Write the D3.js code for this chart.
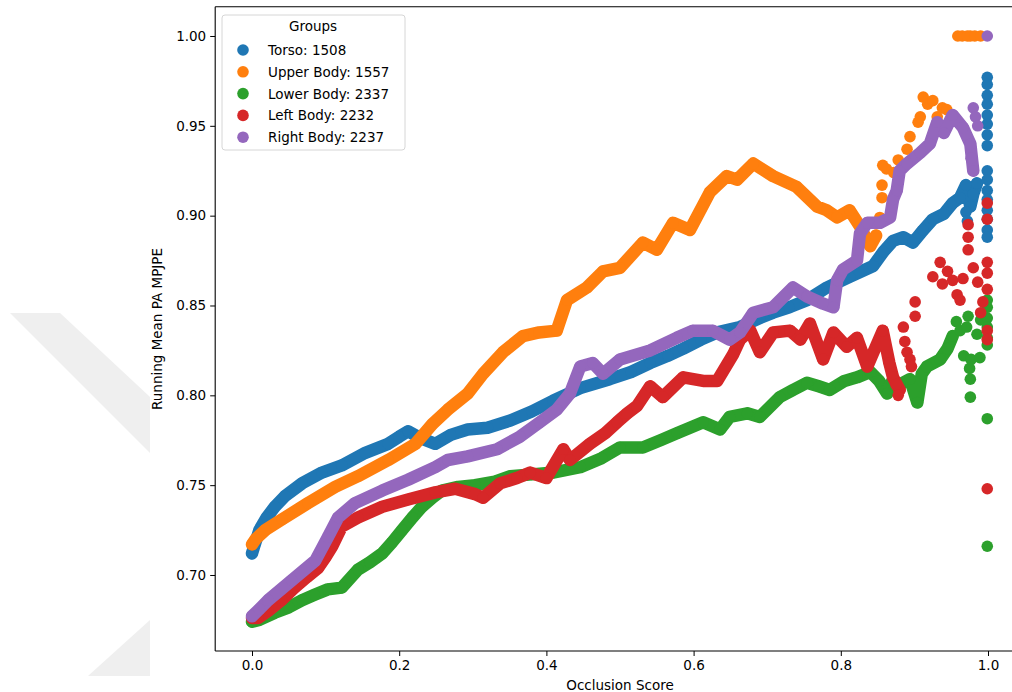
<!DOCTYPE html>
<html>
<head>
<meta charset="utf-8">
<script src="https://cdn.jsdelivr.net/npm/d3@7"></script>
<style>
  body { margin: 0; background: #fff; }
  #chart { width: 1012px; height: 692px; }
  text { font-family: "DejaVu Sans", sans-serif; fill: #000; }
</style>
</head>
<body>
<div id="chart"></div>
<script>
// running mean values (x = occlusion score, y = PA MPJPE)
var groupNames = ["Torso: 1508", "Upper Body: 1557", "Lower Body: 2337", "Left Body: 2232", "Right Body: 2237"]
var groupColors = ["#1f77b4", "#ff7f0e", "#2ca02c", "#d62728", "#9467bd"]

var torsoX = [0.000,0.003,0.010,0.020,0.031,0.045,0.068,0.095,0.122,0.154,0.185,0.200,0.212,0.230,0.249,0.270,0.293,0.320,0.351,0.380,0.409,0.446,0.486,0.515,0.541,0.565,0.586,0.610,0.632,0.663,0.690,0.708,0.730,0.754,0.781,0.812,0.844,0.858,0.871,0.885,0.898,0.912,0.925,0.940,0.952,0.962,0.970,0.976,0.980,0.985]
var torsoY = [0.712,0.716,0.725,0.732,0.738,0.744,0.751,0.757,0.761,0.768,0.773,0.777,0.780,0.776,0.773,0.778,0.781,0.782,0.786,0.791,0.797,0.804,0.809,0.813,0.818,0.822,0.826,0.831,0.835,0.838,0.843,0.846,0.849,0.853,0.860,0.866,0.872,0.880,0.886,0.888,0.885,0.892,0.898,0.901,0.907,0.910,0.917,0.905,0.912,0.918]
var torsoTailX = [0.970,0.972,0.999,0.999,0.999,0.999,0.999,0.999,0.999,0.999,0.999,0.999,0.999,0.999,0.999,0.999,0.999,0.999]
var torsoTailY = [0.902,0.897,0.977,0.973,0.967,0.962,0.956,0.951,0.945,0.939,0.925,0.920,0.914,0.909,0.903,0.898,0.892,0.888]

var upperX = [0.000,0.005,0.018,0.041,0.076,0.113,0.144,0.185,0.222,0.245,0.266,0.293,0.314,0.341,0.368,0.390,0.414,0.428,0.455,0.477,0.500,0.531,0.550,0.572,0.595,0.622,0.645,0.659,0.681,0.708,0.740,0.768,0.781,0.795,0.812,0.826,0.840,0.848]
var upperY = [0.717,0.720,0.725,0.731,0.740,0.749,0.755,0.764,0.773,0.784,0.792,0.801,0.812,0.824,0.833,0.835,0.836,0.853,0.860,0.869,0.871,0.885,0.881,0.896,0.892,0.913,0.922,0.920,0.929,0.922,0.916,0.905,0.903,0.899,0.903,0.894,0.883,0.889]
var upperTailX = [0.853,0.856,0.856,0.857,0.862,0.872,0.878,0.890,0.894,0.905,0.908,0.912,0.918,0.925,0.931,0.938,0.944,0.950,0.959,0.965,0.972,0.976,0.982,0.990]
var upperTailY = [0.899,0.910,0.917,0.928,0.926,0.924,0.931,0.937,0.944,0.952,0.955,0.966,0.962,0.964,0.955,0.960,0.959,0.953,1.000,1.000,1.000,1.000,1.000,1.000]

var lowerX = [0.000,0.010,0.031,0.050,0.068,0.085,0.103,0.122,0.144,0.160,0.177,0.190,0.204,0.218,0.231,0.245,0.258,0.280,0.303,0.330,0.351,0.380,0.409,0.446,0.475,0.500,0.531,0.555,0.578,0.613,0.636,0.649,0.673,0.690,0.717,0.735,0.754,0.770,0.785,0.805,0.822,0.840,0.852,0.863,0.870,0.880,0.894,0.904,0.910,0.917,0.935,0.945,0.952]
var lowerY = [0.674,0.675,0.679,0.682,0.686,0.689,0.692,0.693,0.703,0.707,0.712,0.718,0.725,0.732,0.738,0.743,0.747,0.749,0.750,0.752,0.755,0.756,0.757,0.760,0.765,0.771,0.771,0.775,0.779,0.785,0.781,0.788,0.790,0.788,0.799,0.803,0.807,0.805,0.803,0.808,0.810,0.813,0.808,0.801,0.808,0.806,0.809,0.796,0.812,0.816,0.820,0.826,0.833]
var lowerTailX = [0.957,0.962,0.967,0.971,0.973,0.975,0.976,0.976,0.977,0.985,0.989,0.990,0.999,0.999,0.999,0.999,0.999,0.999,0.999,0.999]
var lowerTailY = [0.841,0.836,0.822,0.838,0.844,0.815,0.809,0.799,0.820,0.834,0.821,0.842,0.853,0.849,0.843,0.838,0.832,0.828,0.787,0.716]

var leftX = [0.000,0.008,0.022,0.040,0.058,0.075,0.090,0.100,0.109,0.122,0.144,0.177,0.212,0.249,0.276,0.303,0.314,0.337,0.360,0.378,0.400,0.423,0.432,0.459,0.480,0.496,0.510,0.523,0.541,0.558,0.586,0.613,0.632,0.654,0.663,0.677,0.690,0.708,0.731,0.745,0.758,0.776,0.790,0.808,0.822,0.836,0.857,0.866,0.871,0.880]
var leftY = [0.676,0.676,0.680,0.686,0.693,0.699,0.704,0.710,0.716,0.727,0.732,0.738,0.742,0.746,0.748,0.745,0.743,0.751,0.754,0.757,0.754,0.770,0.764,0.773,0.779,0.785,0.790,0.794,0.805,0.799,0.810,0.808,0.808,0.823,0.831,0.836,0.824,0.835,0.836,0.831,0.840,0.820,0.835,0.827,0.832,0.816,0.836,0.818,0.810,0.803]
var leftTailX = [0.875,0.878,0.885,0.887,0.890,0.894,0.896,0.901,0.901,0.925,0.935,0.938,0.945,0.952,0.958,0.962,0.966,0.973,0.973,0.973,0.980,0.986,0.990,0.993,0.999,0.999,0.999,0.999,0.999,0.999,0.999,0.999]
var leftTailY = [0.806,0.800,0.838,0.830,0.824,0.820,0.816,0.844,0.852,0.866,0.874,0.862,0.869,0.864,0.856,0.853,0.865,0.881,0.888,0.895,0.871,0.863,0.846,0.852,0.907,0.898,0.874,0.868,0.859,0.836,0.831,0.748]

var rightX = [0.000,0.010,0.022,0.054,0.086,0.103,0.117,0.140,0.177,0.212,0.249,0.266,0.293,0.333,0.364,0.391,0.414,0.432,0.446,0.463,0.477,0.500,0.541,0.577,0.599,0.626,0.649,0.663,0.681,0.708,0.735,0.754,0.776,0.790,0.795,0.803,0.822,0.826,0.836,0.853,0.867,0.871,0.876,0.880,0.890,0.908,0.921,0.931,0.940,0.952,0.966,0.976,0.980]
var rightY = [0.677,0.681,0.686,0.697,0.708,0.721,0.732,0.740,0.747,0.753,0.760,0.764,0.766,0.770,0.777,0.785,0.792,0.801,0.816,0.818,0.812,0.820,0.825,0.832,0.836,0.836,0.831,0.835,0.846,0.849,0.860,0.855,0.851,0.849,0.864,0.870,0.875,0.890,0.896,0.896,0.899,0.909,0.914,0.925,0.929,0.935,0.940,0.952,0.946,0.956,0.949,0.940,0.925]
var rightTailX = [0.977,0.980,0.983,0.986,0.999]
var rightTailY = [0.932,0.960,0.955,0.950,1.000]

var xTicks = [0.0, 0.2, 0.4, 0.6, 0.8, 1.0]
var yTicks = [0.70, 0.75, 0.80, 0.85, 0.90, 0.95, 1.00]

var width = 1012, height = 692

var svg = d3.select("#chart").append("svg")
    .attr("width", width)
    .attr("height", height)

// faded logo shape left of the figure
svg.append("polygon").attr("points", "10,313 60,313 150,397 150,453").attr("fill", "#efefef")
svg.append("polygon").attr("points", "88,676 150,620 150,676").attr("fill", "#efefef")
svg.append("rect").attr("x", 150).attr("y", 0).attr("width", width - 150).attr("height", height).attr("fill", "#fff")

var x = d3.scaleLinear().domain([-0.05, 1.05]).range([215.2, 1024.8])
var y = d3.scaleLinear().domain([0.6577, 1.0163]).range([651, 6.7])

var series = [
    {trace: d3.zip(torsoX, torsoY), tail: d3.zip(torsoTailX, torsoTailY)},
    {trace: d3.zip(upperX, upperY), tail: d3.zip(upperTailX, upperTailY)},
    {trace: d3.zip(lowerX, lowerY), tail: d3.zip(lowerTailX, lowerTailY)},
    {trace: d3.zip(leftX, leftY), tail: d3.zip(leftTailX, leftTailY)},
    {trace: d3.zip(rightX, rightY), tail: d3.zip(rightTailX, rightTailY)}
]

svg.append("clipPath").attr("id", "plotclip")
    .append("rect").attr("x", 215.2).attr("y", 6.7).attr("width", 1024.8 - 215.2).attr("height", 651 - 6.7)

var plot = svg.append("g").attr("clip-path", "url(#plotclip)")
var line = d3.line().x(function(d){ return x(d[0]) }).y(function(d){ return y(d[1]) })

series.forEach(function(s, i){
    var g = plot.append("g")
    g.append("path")
        .attr("d", line(s.trace))
        .attr("fill", "none")
        .attr("stroke", groupColors[i])
        .attr("stroke-width", 12.5)
        .attr("stroke-linejoin", "round")
        .attr("stroke-linecap", "round")
    g.selectAll("circle")
        .data(s.trace.concat(s.tail))
        .enter().append("circle")
        .attr("cx", function(d){ return x(d[0]) })
        .attr("cy", function(d){ return y(d[1]) })
        .attr("r", 5.8)
        .attr("fill", groupColors[i])
})

// axes
svg.append("g").attr("transform", "translate(0,651)")
    .call(d3.axisBottom(x).tickValues(xTicks).tickSize(5).tickPadding(4).tickFormat(d3.format(".1f")))
svg.append("g").attr("transform", "translate(215.2,0)")
    .call(d3.axisLeft(y).tickValues(yTicks).tickSize(5).tickPadding(4).tickFormat(d3.format(".2f")))

svg.selectAll(".domain").remove()
svg.selectAll(".tick line").attr("stroke", "#000").attr("stroke-width", 1)
svg.selectAll(".tick text").attr("font-family", "DejaVu Sans").attr("font-size", 13.5).attr("fill", "#000")

// spines
svg.append("line").attr("x1", 215.2).attr("x2", 215.2).attr("y1", 6.7).attr("y2", 651).attr("stroke", "#000").attr("stroke-width", 1.1)
svg.append("line").attr("x1", 215.2).attr("x2", 1024.8).attr("y1", 651).attr("y2", 651).attr("stroke", "#000").attr("stroke-width", 1.1)
svg.append("line").attr("x1", 215.2).attr("x2", 1024.8).attr("y1", 6.7).attr("y2", 6.7).attr("stroke", "#000").attr("stroke-width", 1.1)

svg.append("text")
    .attr("x", 620).attr("y", 690)
    .attr("text-anchor", "middle")
    .attr("font-size", 13.5)
    .text("Occlusion Score")

svg.append("text")
    .attr("transform", "translate(162,329)rotate(-90)")
    .attr("text-anchor", "middle")
    .attr("font-size", 13.5)
    .text("Running Mean PA MPJPE")

// legend
var legend = svg.append("g")
legend.append("rect")
    .attr("x", 222).attr("y", 15).attr("width", 183).attr("height", 135).attr("rx", 3)
    .attr("fill", "#fff").attr("fill-opacity", 0.8)
    .attr("stroke", "#d6d6d6").attr("stroke-width", 1)
legend.append("text")
    .attr("x", 313).attr("y", 31)
    .attr("text-anchor", "middle")
    .attr("font-size", 13.5)
    .text("Groups")
groupNames.forEach(function(name, i){
    var ry = 50 + i * 21.8
    legend.append("circle").attr("cx", 243).attr("cy", ry).attr("r", 5.8).attr("fill", groupColors[i])
    legend.append("text").attr("x", 268).attr("y", ry + 5).attr("font-size", 13.5).text(name)
})
</script>
</body>
</html>
